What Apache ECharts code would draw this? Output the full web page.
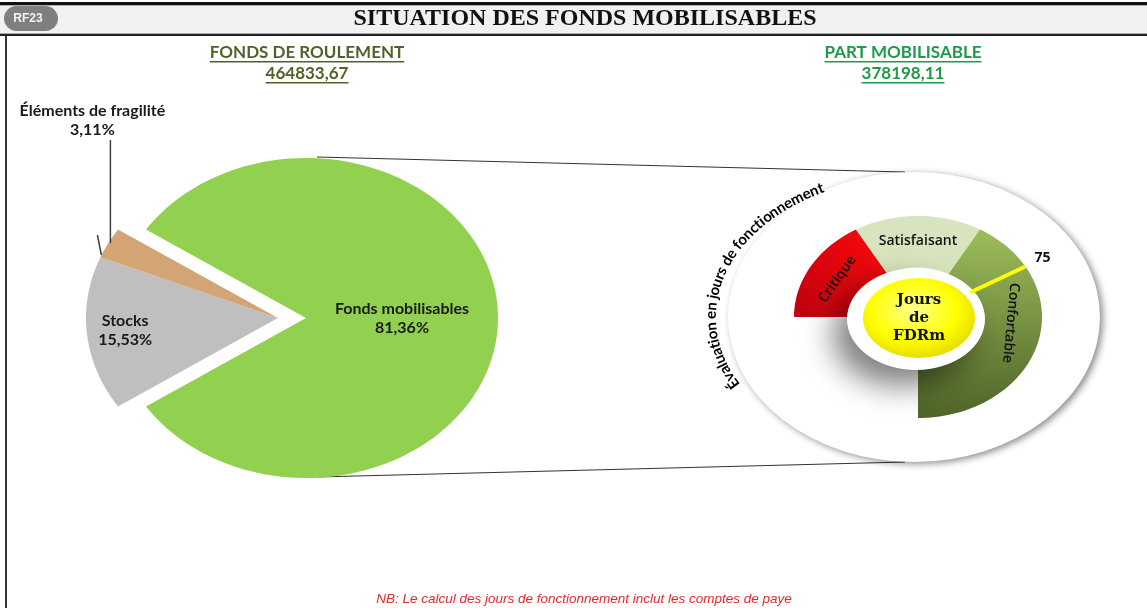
<!DOCTYPE html>
<html>
<head>
<meta charset="utf-8">
<script src="https://cdn.jsdelivr.net/npm/echarts@6/dist/echarts.min.js"></script>
<style>
html, body { margin: 0; padding: 0; background: #fff; }
#main { width: 1147px; height: 608px; }
</style>
</head>
<body>
<div id="main"></div>
<script>
// données
var pieNames = ['Fonds mobilisables', 'Stocks', 'Éléments de fragilité'];
var pieValues = [81.36, 15.53, 3.11];
var gaugeBands = ['Critique', 'Satisfaisant', 'Confortable'];
var gaugeLimits = [0, 30, 60, 135];
var gaugeValue = 75;
var fondsRoulement = '464833,67';
var partMobilisable = '378198,11';
var titre = 'SITUATION DES FONDS MOBILISABLES';
var arcTitre = 'Évaluation en jours de fonctionnement';
var note = 'NB: Le calcul des jours de fonctionnement inclut les comptes de paye';

var pieColors = ['#92d050', '#bfbfbf', '#d4a574'];
var bandColors = [
    new echarts.graphic.LinearGradient(1, 0, 0, 1, [{offset: 0, color: '#ff0a0a'}, {offset: 1, color: '#bd0010'}]),
    '#d7e4bd',
    new echarts.graphic.LinearGradient(0, 0, 0, 1, [{offset: 0, color: '#9dbd5a'}, {offset: 1, color: '#4f6428'}])
];
var bandLabelAt = [0.5, 0.5, 0.43];
var sans = 'Lato';
var rad = Math.PI / 180;

var myChart = echarts.init(document.getElementById('main'));

// mesure du texte (soulignements, texte courbe)
var ctx = document.createElement('canvas').getContext('2d');
function textWidth(t, font) {
    ctx.font = font;
    return ctx.measureText(t).width;
}

var total = pieValues.reduce(function (a, b) { return a + b; }, 0);
var pieStart = 180 * pieValues[0] / total; // la part mobilisable est centrée sur 0°
function pieAngles(i) {
    var a = pieStart;
    for (var k = 0; k < i; k++) a -= 360 * pieValues[k] / total;
    return [a, a - 360 * pieValues[i] / total];
}
function pct(v) {
    return v.toFixed(2).replace('.', ',') + '%';
}
function tangentRot(t, rx, ry) {
    return Math.atan2(-ry * Math.cos(t * rad), rx * Math.sin(t * rad));
}

function renderPie(params, api) {
    var i = api.value(0);
    var c = api.coord([0, 0]);
    var s = api.size([1, 1]);
    var rx = s[0], ry = s[1];
    var ang = pieAngles(i);
    var mid = (ang[0] + ang[1]) / 2;
    var off = i === 0 ? 28 : 0;
    var cx = c[0] + off * Math.cos(mid * rad);
    var cy = c[1] - off * Math.sin(mid * rad);
    var pts = [[cx, cy]];
    var n = Math.max(4, Math.ceil(Math.abs(ang[0] - ang[1]) / 2));
    for (var k = 0; k <= n; k++) {
        var a = (ang[0] + (ang[1] - ang[0]) * k / n) * rad;
        pts.push([cx + rx * Math.cos(a), cy - ry * Math.sin(a)]);
    }
    var children = [{type: 'polygon', shape: {points: pts}, style: {fill: pieColors[i]}}];
    var txtStyle = {
        text: pieNames[i] + '\n' + pct(pieValues[i]),
        fill: '#1a1a1a', fontFamily: sans, fontWeight: 'bold', fontSize: 16,
        align: 'center', verticalAlign: 'middle', lineHeight: 19
    };
    if (i < 2) {
        var f = i === 0 ? 0.5 : 0.8;
        children.push({type: 'text', x: cx + f * rx * Math.cos(mid * rad), y: cy - f * ry * Math.sin(mid * rad), style: txtStyle});
    } else {
        var ox = cx + rx * Math.cos(mid * rad), oy = cy - ry * Math.sin(mid * rad);
        children.push({type: 'line', shape: {x1: ox + 2, y1: oy, x2: ox + 2, y2: oy - 103}, style: {stroke: '#404040', lineWidth: 1.5}});
        children.push({type: 'line', shape: {x1: ox - 11, y1: oy - 8, x2: ox - 7, y2: oy + 12}, style: {stroke: '#404040', lineWidth: 1.5}});
        children.push({type: 'text', x: ox - 16, y: oy - 123, style: txtStyle});
    }
    return {type: 'group', children: children};
}

var gMin = gaugeLimits[0], gMax = gaugeLimits[gaugeLimits.length - 1];
function gAngle(v) {
    return 180 - 270 * (v - gMin) / (gMax - gMin);
}
var bandInner = 0.49;

function renderBand(params, api) {
    var i = api.value(0);
    var c = api.coord([0, 0]);
    var s = api.size([1, 1]);
    var rx = s[0], ry = s[1];
    var a0 = gAngle(gaugeLimits[i]), a1 = gAngle(gaugeLimits[i + 1]);
    var pts = [];
    var n = Math.ceil(Math.abs(a1 - a0) / 2);
    for (var k = 0; k <= n; k++) {
        var a = (a0 + (a1 - a0) * k / n) * rad;
        pts.push([c[0] + rx * Math.cos(a), c[1] - ry * Math.sin(a)]);
    }
    for (k = n; k >= 0; k--) {
        a = (a0 + (a1 - a0) * k / n) * rad;
        pts.push([c[0] + bandInner * rx * Math.cos(a), c[1] - bandInner * ry * Math.sin(a)]);
    }
    var t = gAngle(gaugeLimits[i] + (gaugeLimits[i + 1] - gaugeLimits[i]) * bandLabelAt[i]);
    var r = 0.75;
    return {
        type: 'group',
        children: [
            {type: 'polygon', shape: {points: pts}, style: {fill: bandColors[i]}},
            {
                type: 'text',
                x: c[0] + r * rx * Math.cos(t * rad),
                y: c[1] - r * ry * Math.sin(t * rad),
                rotation: tangentRot(t, rx, ry),
                style: {
                    text: gaugeBands[i], fill: '#111', fontFamily: 'Open Sans', fontWeight: 600, fontSize: 14,
                    align: 'center', verticalAlign: 'middle'
                }
            }
        ]
    };
}

function renderNeedle(params, api) {
    var v = api.value(0);
    var c = api.coord([0, 0]);
    var s = api.size([1, 1]);
    var rx = s[0], ry = s[1];
    var t = gAngle(v) * rad;
    return {
        type: 'group',
        children: [
            {
                type: 'line',
                shape: {
                    x1: c[0] + bandInner * rx * Math.cos(t), y1: c[1] - bandInner * ry * Math.sin(t),
                    x2: c[0] + rx * Math.cos(t), y2: c[1] - ry * Math.sin(t)
                },
                style: {stroke: '#ffff00', lineWidth: 4}
            },
            {
                type: 'text',
                x: c[0] + 1.16 * rx * Math.cos(t), y: c[1] - 1.16 * ry * Math.sin(t),
                style: {text: String(v), fill: '#111', fontFamily: 'Open Sans', fontWeight: 'bold', fontSize: 14, align: 'center', verticalAlign: 'middle'}
            }
        ]
    };
}

// texte courbe autour du cadran
function arcText(str, cx, cy, rx, ry, startDeg, font) {
    var els = [];
    var samples = [], len = [0];
    for (var d = startDeg; d >= startDeg - 180; d -= 0.2) samples.push(d);
    for (var k = 1; k < samples.length; k++) {
        var p0 = [rx * Math.cos(samples[k - 1] * rad), ry * Math.sin(samples[k - 1] * rad)];
        var p1 = [rx * Math.cos(samples[k] * rad), ry * Math.sin(samples[k] * rad)];
        len.push(len[k - 1] + Math.hypot(p1[0] - p0[0], p1[1] - p0[1]));
    }
    var pos = 0, j = 0;
    for (var q = 0; q < str.length; q++) {
        var w = textWidth(str[q], font);
        var target = pos + w / 2;
        while (j < len.length - 1 && len[j] < target) j++;
        var t = samples[j];
        els.push({
            type: 'text', z: 3,
            x: cx + rx * Math.cos(t * rad), y: cy - ry * Math.sin(t * rad),
            rotation: tangentRot(t, rx, ry),
            style: {text: str[q], font: font, fill: '#000', align: 'center', verticalAlign: 'middle'}
        });
        pos += w;
    }
    return els;
}

var subFont = 'bold 17px ' + sans;
function underlined(txt, x, y, color) {
    var w = textWidth(txt, subFont);
    return [
        {type: 'text', x: x, y: y, style: {text: txt, font: subFont, fill: color, align: 'center', verticalAlign: 'middle'}},
        {type: 'rect', shape: {x: x - w / 2, y: y + 8, width: w, height: 1.6}, style: {fill: color}}
    ];
}

var graphics = [
    // bandeau du titre
    {type: 'rect', z: 0, shape: {x: 0, y: 2, width: 1147, height: 3}, style: {fill: '#111'}},
    {type: 'rect', z: 0, shape: {x: 0, y: 5, width: 1147, height: 29}, style: {fill: '#f1f1f1'}},
    {type: 'rect', z: 0, shape: {x: 0, y: 5, width: 1147, height: 1}, style: {fill: '#aaa'}},
    {type: 'rect', z: 0, shape: {x: 0, y: 33, width: 1147, height: 1}, style: {fill: '#aaa'}},
    {type: 'rect', z: 0, shape: {x: 0, y: 34, width: 1147, height: 2}, style: {fill: '#222'}},
    {type: 'rect', z: 0, shape: {x: 5, y: 36, width: 2, height: 572}, style: {fill: '#333'}},
    {type: 'rect', z: 1, shape: {x: 4, y: 6, width: 54, height: 25, r: 12.5}, style: {fill: '#7f7f7f'}},
    {type: 'text', z: 2, x: 28, y: 19, style: {text: 'RF23', font: 'bold 12px Liberation Sans', fill: '#f4f4f4', align: 'center', verticalAlign: 'middle'}},
    {type: 'text', z: 2, x: 585, y: 19, style: {text: titre, font: 'bold 24px Liberation Serif', fill: '#111', align: 'center', verticalAlign: 'middle'}},
    // lignes de liaison vers le cadran
    {type: 'line', z: 0, shape: {x1: 317, y1: 157, x2: 905, y2: 172}, style: {stroke: '#333', lineWidth: 1.2}},
    {type: 'line', z: 0, shape: {x1: 317, y1: 477, x2: 905, y2: 462}, style: {stroke: '#333', lineWidth: 1.2}},
    // disque blanc du cadran
    {type: 'circle', z: 1, x: 914, y: 317, scaleX: 186 / 145, shape: {cx: 0, cy: 0, r: 145},
        style: {fill: '#fff', shadowBlur: 7, shadowOffsetX: 3, shadowOffsetY: 2, shadowColor: 'rgba(0,0,0,0.45)'}},
    // anneau blanc et centre jaune
    {type: 'circle', z: 10, x: 916, y: 319, scaleX: 69 / 51, shape: {cx: 0, cy: 0, r: 51},
        style: {fill: '#fff', shadowBlur: 30, shadowOffsetX: -14, shadowOffsetY: 16, shadowColor: 'rgba(0,0,0,0.5)'}},
    {type: 'circle', z: 11, x: 919, y: 318, scaleX: 56 / 40, shape: {cx: 0, cy: 0, r: 40},
        style: {fill: new echarts.graphic.RadialGradient(0.45, 0.4, 0.65, [
            {offset: 0, color: '#ffff90'}, {offset: 0.6, color: '#ffff00'}, {offset: 1, color: '#e2d600'}])}},
    {type: 'text', z: 12, x: 919, y: 318, style: {text: 'Jours\nde\nFDRm', font: 'bold 15px DejaVu Serif', fill: '#111', align: 'center', verticalAlign: 'middle', lineHeight: 18}},
    // note
    {type: 'text', z: 2, x: 584, y: 599, style: {text: note, font: 'italic 13.5px Liberation Sans', fill: '#e32b2b', align: 'center', verticalAlign: 'middle'}}
];
graphics = graphics
    .concat(underlined('FONDS DE ROULEMENT', 307, 53, '#4f6228'))
    .concat(underlined(fondsRoulement, 307, 74, '#4f6228'))
    .concat(underlined('PART MOBILISABLE', 903, 53, '#1e9a48'))
    .concat(underlined(partMobilisable, 903, 74, '#1e9a48'))
    .concat(arcText(arcTitre, 914, 317, 203, 145, 209, 'bold 15px ' + sans));

var option = {
    animation: false,
    grid: [
        {left: 86, top: 158, width: 384, height: 320},
        {left: 794, top: 216, width: 248, height: 202}
    ],
    xAxis: [
        {gridIndex: 0, type: 'value', min: -1, max: 1, show: false},
        {gridIndex: 1, type: 'value', min: -1, max: 1, show: false}
    ],
    yAxis: [
        {gridIndex: 0, type: 'value', min: -1, max: 1, show: false},
        {gridIndex: 1, type: 'value', min: -1, max: 1, show: false}
    ],
    graphic: {elements: graphics},
    series: [
        {
            type: 'custom', name: 'fonds', xAxisIndex: 0, yAxisIndex: 0, z: 2, clip: false,
            renderItem: renderPie,
            data: pieValues.map(function (v, i) { return [i, 0]; })
        },
        {
            type: 'custom', name: 'cadran', xAxisIndex: 1, yAxisIndex: 1, z: 5, clip: false,
            renderItem: renderBand,
            data: gaugeBands.map(function (b, i) { return [i, 0]; })
        },
        {
            type: 'custom', name: 'jours', xAxisIndex: 1, yAxisIndex: 1, z: 20, clip: false,
            renderItem: renderNeedle,
            data: [[gaugeValue, 0]]
        }
    ]
};
myChart.setOption(option);
window.onresize = function () { myChart.resize(); };
</script>
</body>
</html>
